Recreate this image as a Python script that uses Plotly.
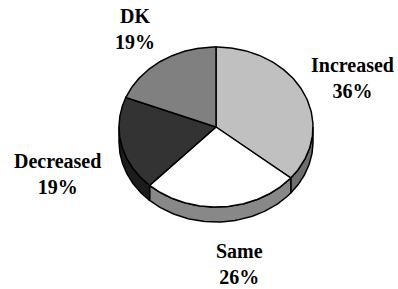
import numpy as np
import plotly.graph_objects as go

categories = ["Increased", "Same", "Decreased", "DK"]
values = [36, 26, 19, 19]
top_colors = ["#c0c0c0", "#ffffff", "#333333", "#808080"]
side_colors = ["#6e6e6e", "#888888", "#1c1c1c", "#505050"]
label_pos = [(352, 78), (239, 264), (57, 174), (135, 29)]

W, H = 398, 289
cx, cy, rx, ry, depth = 216, 127, 97, 80, 15

def pt(t_deg, dy=0.0):
    t = np.radians(t_deg)
    return cx + rx * np.sin(t), cy - ry * np.cos(t) + dy

fig = go.Figure()
total = sum(values)
bounds = np.cumsum([0] + values) / total * 360.0

# side faces
for i in range(len(values)):
    a0, a1 = max(bounds[i], 90.0), min(bounds[i + 1], 270.0)
    if a1 <= a0:
        continue
    ts = np.linspace(a0, a1, 80)
    xs_top, ys_top = pt(ts)
    xs_bot, ys_bot = pt(ts[::-1], depth)
    xs = np.concatenate([xs_top, xs_bot, xs_top[:1]])
    ys = np.concatenate([ys_top, ys_bot, ys_top[:1]])
    fig.add_trace(go.Scatter(x=xs, y=ys, mode="lines", fill="toself",
                             fillcolor=side_colors[i],
                             line=dict(color="black", width=1.5),
                             hoverinfo="skip", showlegend=False))

# top faces
for i in range(len(values)):
    ts = np.linspace(bounds[i], bounds[i + 1], 120)
    xs, ys = pt(ts)
    xs = np.concatenate([[cx], xs, [cx]])
    ys = np.concatenate([[cy], ys, [cy]])
    fig.add_trace(go.Scatter(x=xs, y=ys, mode="lines", fill="toself",
                             fillcolor=top_colors[i],
                             line=dict(color="black", width=1.5),
                             hoverinfo="text", text=f"{categories[i]}: {values[i]}%",
                             showlegend=False))

for i, c in enumerate(categories):
    x, y = label_pos[i]
    fig.add_annotation(x=x, y=y, text=f"<b>{c}<br>{values[i]}%</b>", showarrow=False,
                       xanchor="center", yanchor="middle",
                       font=dict(family="Liberation Serif, Times New Roman, serif",
                                 size=20, color="black"))

fig.update_layout(width=W, height=H, margin=dict(l=0, r=0, t=0, b=0),
                  paper_bgcolor="white", plot_bgcolor="white",
                  xaxis=dict(range=[0, W], visible=False, fixedrange=True),
                  yaxis=dict(range=[H, 0], visible=False, fixedrange=True))
fig.write_html("out.html", config={"displayModeBar": False},
               post_script="document.body.style.margin='0';")
